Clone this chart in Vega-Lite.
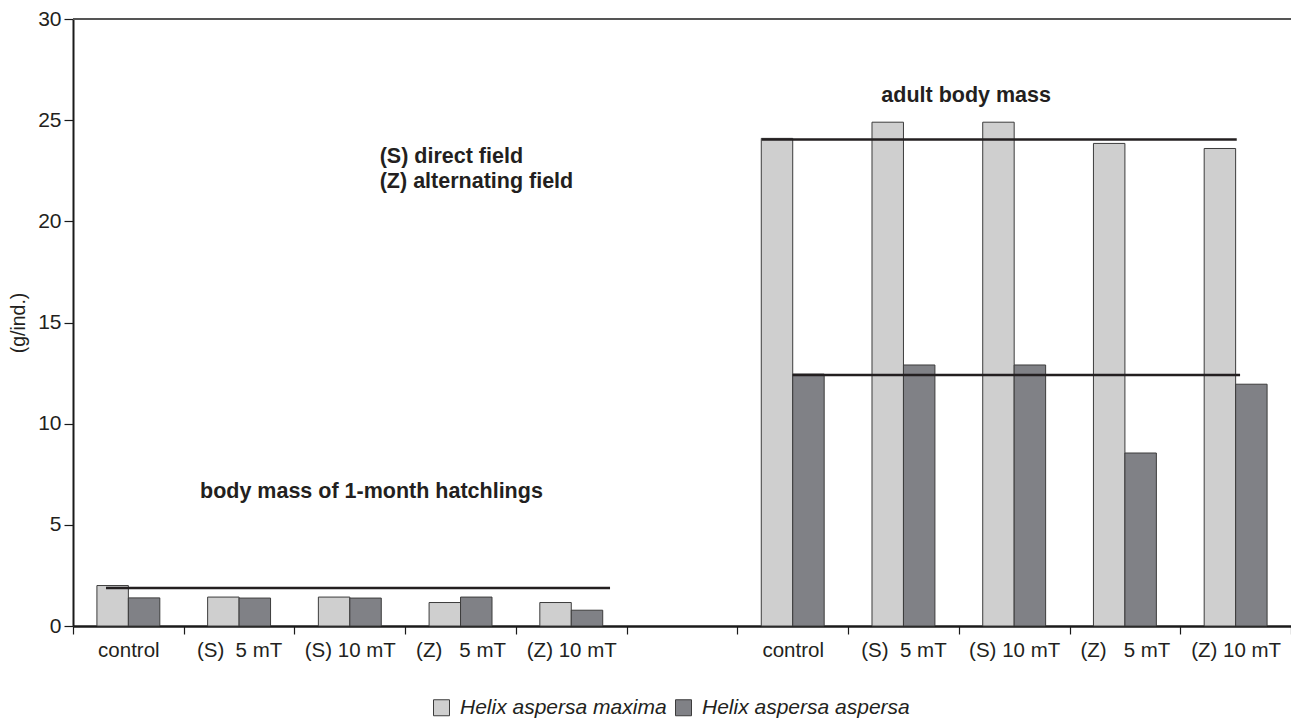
{
  "$schema": "https://vega.github.io/schema/vega-lite/v6.json",
  "width": 1218,
  "height": 607,
  "autosize": {"type": "none"},
  "padding": {"left": 73, "top": 19, "right": 0, "bottom": 94},
  "background": "white",
  "config": {
    "view": {"stroke": null},
    "font": "Liberation Sans",
    "axis": {"labelColor": "#231f20", "titleColor": "#231f20", "domainColor": "#1a1a1a", "tickColor": "#1a1a1a", "grid": false}
  },
  "datasets": {
    "bars": [
      {"group": "1|control", "species": "Helix aspersa maxima", "mass": 2.0},
      {"group": "1|control", "species": "Helix aspersa aspersa", "mass": 1.39},
      {"group": "2|(S)\u00a0\u00a05 mT", "species": "Helix aspersa maxima", "mass": 1.43},
      {"group": "2|(S)\u00a0\u00a05 mT", "species": "Helix aspersa aspersa", "mass": 1.38},
      {"group": "3|(S) 10 mT", "species": "Helix aspersa maxima", "mass": 1.43},
      {"group": "3|(S) 10 mT", "species": "Helix aspersa aspersa", "mass": 1.38},
      {"group": "4|(Z)\u00a0\u00a0\u00a05 mT", "species": "Helix aspersa maxima", "mass": 1.16},
      {"group": "4|(Z)\u00a0\u00a0\u00a05 mT", "species": "Helix aspersa aspersa", "mass": 1.43},
      {"group": "5|(Z) 10 mT", "species": "Helix aspersa maxima", "mass": 1.16},
      {"group": "5|(Z) 10 mT", "species": "Helix aspersa aspersa", "mass": 0.78},
      {"group": "7|control", "species": "Helix aspersa maxima", "mass": 24.1},
      {"group": "7|control", "species": "Helix aspersa aspersa", "mass": 12.45},
      {"group": "8|(S)\u00a0\u00a05 mT", "species": "Helix aspersa maxima", "mass": 24.9},
      {"group": "8|(S)\u00a0\u00a05 mT", "species": "Helix aspersa aspersa", "mass": 12.9},
      {"group": "9|(S) 10 mT", "species": "Helix aspersa maxima", "mass": 24.9},
      {"group": "9|(S) 10 mT", "species": "Helix aspersa aspersa", "mass": 12.9},
      {"group": "10|(Z)\u00a0\u00a0\u00a05 mT", "species": "Helix aspersa maxima", "mass": 23.85},
      {"group": "10|(Z)\u00a0\u00a0\u00a05 mT", "species": "Helix aspersa aspersa", "mass": 8.55},
      {"group": "11|(Z) 10 mT", "species": "Helix aspersa maxima", "mass": 23.6},
      {"group": "11|(Z) 10 mT", "species": "Helix aspersa aspersa", "mass": 11.95}
    ],
    "means": [
      {"x": 0.298, "x2": 4.85, "y": 1.88},
      {"x": 6.22, "x2": 10.51, "y": 24.05},
      {"x": 6.5, "x2": 10.54, "y": 12.4}
    ],
    "frame": [
      {"x": 0, "x2": 11, "y": 30}
    ],
    "notes": [
      {"x": 7.3, "y": 26.2, "text": "adult body mass"},
      {"x": 2.77, "y": 23.18, "text": "(S) direct field"},
      {"x": 2.77, "y": 21.95, "text": "(Z) alternating field"},
      {"x": 1.147, "y": 6.61, "text": "body mass of 1-month hatchlings"}
    ]
  },
  "layer": [
    {
      "data": {"name": "bars"},
      "mark": {"type": "bar", "stroke": "#3c3c3c", "strokeWidth": 1},
      "encoding": {
        "x": {
          "field": "group", "type": "nominal", "sort": null,
          "scale": {"domain": ["1|control", "2|(S)\u00a0\u00a05 mT", "3|(S) 10 mT", "4|(Z)\u00a0\u00a0\u00a05 mT", "5|(Z) 10 mT", "6|", "7|control", "8|(S)\u00a0\u00a05 mT", "9|(S) 10 mT", "10|(Z)\u00a0\u00a0\u00a05 mT", "11|(Z) 10 mT"], "paddingInner": 0, "paddingOuter": 0},
          "axis": {"title": null, "labelExpr": "split(datum.label, '|')[1]", "labelAngle": 0, "tickBand": "extent", "tickSize": 8, "tickWidth": 1.2, "domainWidth": 2.5, "labelFontSize": 20.5, "labelPadding": 6}
        },
        "xOffset": {
          "field": "species", "type": "nominal",
          "scale": {"domain": ["Helix aspersa maxima", "Helix aspersa aspersa"], "paddingInner": 0, "paddingOuter": 0.76}
        },
        "y": {
          "field": "mass", "type": "quantitative",
          "scale": {"domain": [0, 30], "nice": false},
          "axis": {"title": "(g/ind.)", "values": [0, 5, 10, 15, 20, 25, 30], "tickSize": 9, "tickWidth": 1.2, "domainWidth": 2, "labelFontSize": 21, "labelPadding": 3, "titleFontSize": 19.5, "titleFontWeight": "normal", "titlePadding": 9}
        },
        "color": {
          "field": "species", "type": "nominal",
          "scale": {"domain": ["Helix aspersa maxima", "Helix aspersa aspersa"], "range": ["#cfcfcf", "#808186"]},
          "legend": {"title": null, "orient": "none", "direction": "horizontal", "legendX": 358, "legendY": 678, "symbolType": "square", "symbolSize": 256, "symbolStrokeColor": "#3c3c3c", "symbolStrokeWidth": 1, "labelFontSize": 21, "labelFontStyle": "italic", "labelColor": "#231f20", "labelOffset": 8, "labelLimit": 0, "columnPadding": 6}
        }
      }
    },
    {
      "data": {"name": "means"},
      "mark": {"type": "rule", "color": "#231f20", "strokeWidth": 2.5},
      "encoding": {
        "x": {"field": "x", "type": "quantitative", "scale": {"domain": [0, 11], "nice": false, "zero": false}, "axis": null},
        "x2": {"field": "x2"},
        "y": {"field": "y", "type": "quantitative"}
      }
    },
    {
      "data": {"name": "frame"},
      "mark": {"type": "rule", "color": "#555555", "strokeWidth": 1.8},
      "encoding": {
        "x": {"field": "x", "type": "quantitative", "scale": {"domain": [0, 11], "nice": false, "zero": false}, "axis": null},
        "x2": {"field": "x2"},
        "y": {"field": "y", "type": "quantitative"}
      }
    },
    {
      "data": {"name": "notes"},
      "mark": {"type": "text", "align": "left", "baseline": "middle", "fontSize": 21.5, "fontWeight": "bold", "color": "#231f20"},
      "encoding": {
        "x": {"field": "x", "type": "quantitative", "scale": {"domain": [0, 11], "nice": false, "zero": false}, "axis": null},
        "y": {"field": "y", "type": "quantitative"},
        "text": {"field": "text"}
      }
    }
  ],
  "resolve": {"scale": {"x": "independent"}}
}
